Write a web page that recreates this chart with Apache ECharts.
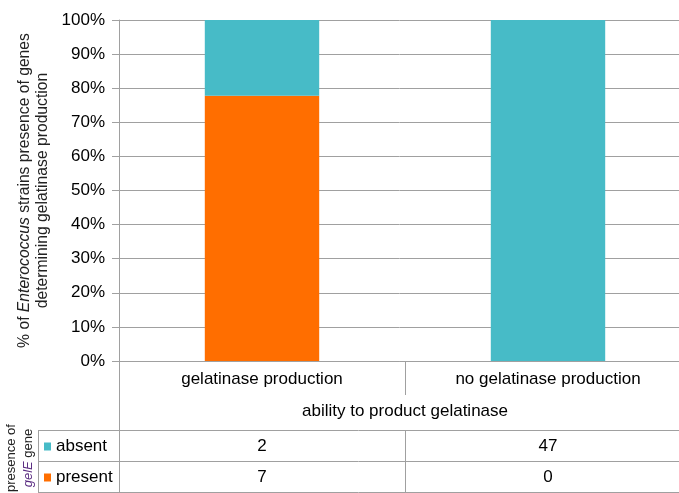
<!DOCTYPE html>
<html lang="en">
<head>
    <meta charset="UTF-8">
    <title>gelE presence</title>
    <script src="https://cdn.jsdelivr.net/npm/echarts@6/dist/echarts.min.js"></script>
    <style>
        html, body {margin: 0; padding: 0; background: #fff;}
        #chart {width: 679px; height: 493px;}
    </style>
</head>
<body>
<div id="chart"></div>
<script>
    var categories = ['gelatinase production', 'no gelatinase production'];
    var rowNames = ['absent', 'present'];
    var absentCounts = [2, 47];
    var presentCounts = [7, 0];
    var yTicks = [0, 10, 20, 30, 40, 50, 60, 70, 80, 90, 100];

    var tealColor = '#47bbc7';
    var orangeColor = '#ff6e00';
    var lineColor = '#a0a0a0';
    var font = 'Liberation Sans, Arial, sans-serif';

    // share of strains in each category, in percent
    var totals = absentCounts.map(function (v, i) { return v + presentCounts[i]; });
    var absentPct = absentCounts.map(function (v, i) { return v / totals[i] * 100; });
    var presentPct = presentCounts.map(function (v, i) { return v / totals[i] * 100; });

    var chart = echarts.init(document.getElementById('chart'));

    var option = {
        animation: false,
        grid: {left: 119, top: 20, width: 572, bottom: 132, containLabel: false, outerBoundsMode: 'none'},
        xAxis: {
            type: 'category',
            data: categories,
            axisLine: {lineStyle: {color: lineColor}},
            axisTick: {show: true, length: 34, lineStyle: {color: lineColor}},
            axisLabel: {color: '#000', fontSize: 17, fontFamily: font, margin: 10},
            name: 'ability to product gelatinase',
            nameLocation: 'middle',
            nameGap: 42,
            nameTextStyle: {color: '#000', fontSize: 17, fontFamily: font, align: 'center'}
        },
        yAxis: {
            type: 'value',
            min: yTicks[0],
            max: yTicks[yTicks.length - 1],
            interval: yTicks[1] - yTicks[0],
            axisLine: {show: true, lineStyle: {color: lineColor}},
            axisTick: {show: true, length: 7, lineStyle: {color: lineColor}},
            axisLabel: {formatter: '{value}%', color: '#000', fontSize: 17, fontFamily: font, margin: 14},
            splitLine: {lineStyle: {color: lineColor}},
            name: '{n|% of }{i|Enterococcus}{n| strains presence of genes}\n{n|determining gelatinase production}',
            nameLocation: 'middle',
            nameRotate: 90,
            nameGap: 67,
            nameTextStyle: {
                align: 'center',
                rich: {
                    n: {fontSize: 15.7, fontFamily: font, color: '#222', lineHeight: 18},
                    i: {fontSize: 15.7, fontFamily: font, color: '#222', fontStyle: 'italic', lineHeight: 18}
                }
            }
        },
        series: [
            {
                name: 'present', type: 'bar', stack: 'g', data: presentPct,
                barWidth: '40%', itemStyle: {color: orangeColor}
            },
            {
                name: 'absent', type: 'bar', stack: 'g', data: absentPct,
                barWidth: '40%', itemStyle: {color: tealColor}
            }
        ]
    };
    chart.setOption(option);

    // data table under the plot
    var tableTop = 430, rowH = 31, tableLeft = 38, labelRight = 119, tableRight = 679;
    var rows = [absentCounts, presentCounts];
    var rowColors = [tealColor, orangeColor];
    var els = [];

    function line(x1, y1, x2, y2) {
        els.push({type: 'line', shape: {x1: x1, y1: y1, x2: x2, y2: y2},
            style: {stroke: lineColor, lineWidth: 1}, z: 10});
    }

    for (var r = 0; r <= rows.length; r++) {
        line(tableLeft, tableTop + r * rowH + 0.5, tableRight, tableTop + r * rowH + 0.5);
    }
    line(tableLeft + 0.5, tableTop, tableLeft + 0.5, 493);
    line(labelRight + 0.5, 361, labelRight + 0.5, 493);
    var divX = Math.round((chart.convertToPixel({xAxisIndex: 0}, 0) + chart.convertToPixel({xAxisIndex: 0}, 1)) / 2);
    line(divX + 0.5, tableTop, divX + 0.5, 493);

    rows.forEach(function (vals, r) {
        var cy = tableTop + r * rowH + rowH / 2 + 1;
        els.push({type: 'rect', shape: {x: 44, y: cy - 4, width: 7, height: 8},
            style: {fill: rowColors[r]}, z: 10});
        els.push({type: 'text', x: 56, y: cy,
            style: {text: rowNames[r], fontSize: 17, fontFamily: font, fill: '#000', verticalAlign: 'middle'}, z: 10});
        vals.forEach(function (v, c) {
            els.push({type: 'text', x: chart.convertToPixel({xAxisIndex: 0}, c), y: cy,
                style: {text: String(v), fontSize: 17, fontFamily: font, fill: '#000',
                    align: 'center', verticalAlign: 'middle'}, z: 10});
        });
    });

    els.push({
        type: 'text', x: 20, y: 458, rotation: Math.PI / 2,
        style: {
            text: '{n|presence of}\n{i|gelE}{n| gene}',
            align: 'center', verticalAlign: 'middle',
            rich: {
                n: {fontSize: 13, fontFamily: font, fill: '#222', lineHeight: 17},
                i: {fontSize: 13, fontFamily: font, fill: '#5b2d82', fontStyle: 'italic', lineHeight: 17}
            }
        },
        z: 10
    });

    chart.setOption({graphic: {elements: els}});
</script>
</body>
</html>
